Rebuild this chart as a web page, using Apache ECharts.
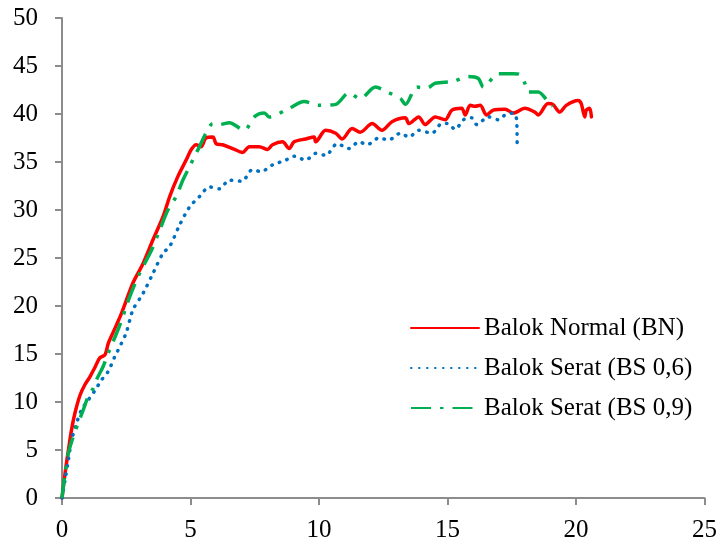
<!DOCTYPE html>
<html>
<head>
<meta charset="utf-8">
<script src="https://cdn.jsdelivr.net/npm/echarts@6/dist/echarts.min.js"></script>
<style>
html,body{margin:0;padding:0;background:#fff;}
#chart{width:720px;height:546px;}
</style>
</head>
<body>
<div id="chart"></div>
<script>
// Tick settings
const xTicks = [0, 5, 10, 15, 20, 25];
const yTicks = [0, 5, 10, 15, 20, 25, 30, 35, 40, 45, 50];

const seriesNames = ['Balok Normal (BN)', 'Balok Serat (BS 0,6)', 'Balok Serat (BS 0,9)'];

// Balok Normal (BN)
const bnX = [0, 0.12, 0.25, 0.37, 0.5, 0.7, 0.89, 1.08, 1.28, 1.47, 1.67, 1.8, 1.98, 2.31, 2.76, 3.15, 3.54, 3.93, 4.19, 4.51, 4.83, 5.03, 5.22, 5.41, 5.6, 5.87, 6.0, 6.25, 6.64, 7.03, 7.29, 7.67, 8.0, 8.19, 8.58, 8.84, 9.03, 9.48, 9.81, 9.87, 10.26, 10.65, 10.9, 11.29, 11.6, 12.07, 12.45, 12.84, 13.36, 13.5, 13.88, 14.13, 14.52, 14.91, 15.17, 15.55, 15.69, 15.88, 16.07, 16.27, 16.52, 16.78, 17.24, 17.56, 18.01, 18.4, 18.53, 18.91, 19.1, 19.37, 19.62, 20.08, 20.2, 20.34, 20.4, 20.53, 20.6];
const bnY = [0, 2.6, 5, 7.1, 8.8, 10.7, 11.8, 12.6, 13.6, 14.6, 14.9, 16.1, 17.2, 19.2, 22.4, 24.4, 26.9, 29.3, 31.4, 33.5, 35.2, 36.3, 36.8, 36.6, 37.5, 37.6, 36.9, 36.8, 36.4, 36.0, 36.6, 36.6, 36.3, 36.8, 37.1, 36.4, 37.1, 37.4, 37.6, 37.1, 38.3, 38.0, 37.4, 38.5, 38.1, 39.0, 38.3, 39.2, 39.6, 39.0, 39.7, 38.9, 39.7, 39.4, 40.4, 40.6, 39.9, 40.9, 40.8, 40.9, 39.9, 40.4, 40.5, 40.1, 40.6, 40.2, 39.9, 41.1, 41.0, 40.2, 40.9, 41.4, 41.1, 39.7, 40.4, 40.6, 39.7];

// Balok Serat (BS 0,6)
const bs06X = [0, 0.12, 0.25, 0.37, 0.57, 0.76, 1.02, 1.28, 1.54, 1.8, 2.05, 2.31, 2.51, 2.76, 3.15, 3.54, 3.93, 4.19, 4.57, 4.96, 5.35, 5.74, 6.12, 6.51, 7.0, 7.41, 7.74, 8.19, 8.71, 9.03, 9.48, 9.87, 10.26, 10.71, 11.16, 11.55, 11.87, 12.33, 12.71, 13.17, 13.5, 13.88, 14.39, 14.78, 15.0, 15.3, 15.62, 15.94, 16.14, 16.59, 16.98, 17.24, 17.56, 17.69, 17.71];
const bs06Y = [0, 1.9, 4.0, 6.0, 7.8, 9.2, 10.2, 11.2, 12.3, 13.2, 14.7, 16.1, 17.3, 19.6, 21.3, 23.4, 25.5, 26.2, 28.4, 30.3, 31.4, 32.4, 32.2, 33.1, 33.0, 34.2, 34.0, 34.7, 35.2, 35.6, 35.2, 35.9, 35.7, 36.9, 36.4, 37.1, 36.8, 37.5, 37.3, 38.0, 37.6, 38.3, 38.0, 39.0, 39.0, 38.4, 39.4, 39.6, 38.9, 39.7, 39.4, 39.9, 40.1, 39.4, 36.8];

// Balok Serat (BS 0,9)
const bs09X = [0, 0.12, 0.25, 0.44, 0.63, 0.83, 1.02, 1.21, 1.34, 1.6, 1.8, 1.99, 2.25, 2.64, 3.02, 3.48, 3.8, 4.12, 4.44, 4.7, 4.96, 5.16, 5.35, 5.6, 5.87, 6.12, 6.51, 7.09, 7.48, 7.87, 8.06, 8.84, 9.42, 10.0, 10.65, 11.16, 11.6, 12.2, 12.65, 13.17, 13.36, 13.81, 14.2, 14.52, 15.23, 15.81, 16.2, 16.4, 16.98, 17.56, 17.82, 18.01, 18.14, 18.53, 18.91, 19.1];
const bs09Y = [0, 2.6, 4.7, 6.4, 7.8, 9.2, 10.6, 11.4, 12.3, 13.7, 15.1, 16.3, 18.0, 21.0, 23.4, 25.8, 27.9, 30.0, 31.4, 33.1, 34.5, 35.6, 36.6, 38.0, 39.0, 38.9, 39.1, 38.3, 39.7, 40.1, 39.7, 40.6, 41.3, 40.9, 41.0, 42.2, 41.6, 42.8, 42.3, 41.6, 41.0, 42.8, 42.7, 43.2, 43.4, 43.9, 43.7, 42.8, 44.2, 44.2, 44.1, 43.2, 42.3, 42.3, 41.3, 40.8];

function pairs(xs, ys) { return xs.map((x, i) => [x, ys[i]]); }

const chart = echarts.init(document.getElementById('chart'), null, {renderer: 'canvas'});
const serif = '"Liberation Serif", "Times New Roman", serif';
const axisColor = '#8c8c8c';

chart.setOption({
  animation: false,
  backgroundColor: '#ffffff',
  grid: {left: 62, right: 13, top: 18, bottom: 48, containLabel: false},
  xAxis: {
    type: 'value',
    min: xTicks[0], max: xTicks[xTicks.length - 1], interval: xTicks[1] - xTicks[0],
    splitLine: {show: false},
    axisLine: {show: true, onZero: false, lineStyle: {color: axisColor, width: 2}},
    axisTick: {show: true, inside: false, length: 7, lineStyle: {color: axisColor, width: 2}},
    axisLabel: {color: '#000', fontFamily: serif, fontSize: 25, margin: 20}
  },
  yAxis: {
    type: 'value',
    min: yTicks[0], max: yTicks[yTicks.length - 1], interval: yTicks[1] - yTicks[0],
    splitLine: {show: false},
    axisLine: {show: true, lineStyle: {color: axisColor, width: 2}},
    axisTick: {show: true, inside: false, length: 7, lineStyle: {color: axisColor, width: 2}},
    axisLabel: {color: '#000', fontFamily: serif, fontSize: 25, margin: 24}
  },
  legend: {
    orient: 'vertical',
    left: 410, top: 315, padding: 0,
    itemWidth: 68, itemHeight: 26, itemGap: 14,
    itemStyle: {color: 'rgba(0,0,0,0)', borderColor: 'rgba(0,0,0,0)', borderWidth: 0, opacity: 0},
    textStyle: {fontFamily: serif, fontSize: 25, color: '#000', lineHeight: 26},
    data: seriesNames
  },
  series: [
    {
      name: seriesNames[0], type: 'line', data: pairs(bnX, bnY),
      showSymbol: false, symbol: 'none', smooth: 0.3,
      lineStyle: {color: '#FF0000', width: 3.5, cap: 'round', join: 'round'},
      itemStyle: {color: '#FF0000'}
    },
    {
      name: seriesNames[1], type: 'line', data: pairs(bs06X, bs06Y),
      showSymbol: false, symbol: 'none', smooth: 0.3,
      lineStyle: {color: '#0070C0', width: 3.5, type: [0.5, 7.5], cap: 'round', join: 'round'},
      itemStyle: {color: '#0070C0'}
    },
    {
      name: seriesNames[2], type: 'line', data: pairs(bs09X, bs09Y),
      showSymbol: false, symbol: 'none', smooth: 0.3,
      lineStyle: {color: '#00B050', width: 3.5, type: [20, 9, 3.5, 9], cap: 'butt', join: 'round'},
      itemStyle: {color: '#00B050'}
    }
  ]
});
</script>
</body>
</html>
